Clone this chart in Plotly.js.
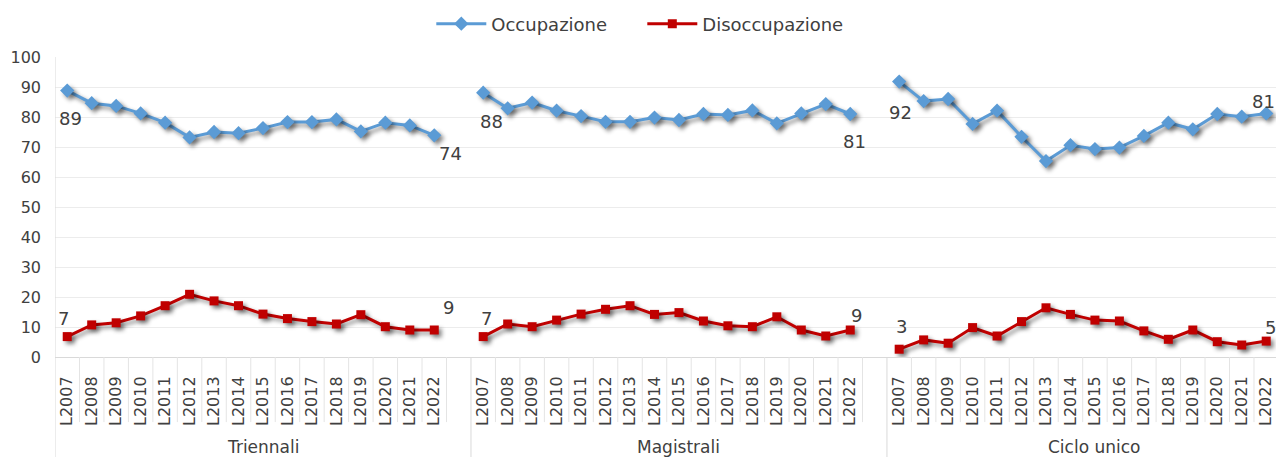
<!DOCTYPE html>
<html>
<head>
<meta charset="utf-8">
<script src="https://cdn.plot.ly/plotly-3.0.1.min.js"></script>
<style>
  html, body { margin: 0; padding: 0; background: #fff; overflow: hidden; }
  #chart { width: 1276px; height: 457px; }
  .scatterlayer .trace .js-line, .scatterlayer .trace .points path {
    filter: drop-shadow(3px 3px 2px rgba(0,0,0,0.45));
  }
</style>
</head>
<body>
<div id="chart"></div>
<script>
// ---- data ----
const years = ['L2007','L2008','L2009','L2010','L2011','L2012','L2013','L2014',
               'L2015','L2016','L2017','L2018','L2019','L2020','L2021','L2022'];
const groups = ['Triennali', 'Magistrali', 'Ciclo unico'];

const occTriennali  = [88.8,84.6,83.7,81.2,78.1,73.2,75.0,74.6,76.3,78.3,78.3,79.2,75.2,78.1,77.2,73.9];
const disTriennali  = [6.8,10.7,11.4,13.7,17.1,20.9,18.7,17.1,14.3,12.8,11.8,11.0,14.1,10.1,9.0,9.0];
const occMagistrali = [88.1,82.9,84.8,82.1,80.3,78.4,78.4,79.8,79.0,81.0,80.7,82.2,77.9,81.2,84.3,81.0];
const disMagistrali = [6.8,11.0,10.1,12.3,14.3,15.9,17.1,14.2,14.8,12.0,10.4,10.1,13.4,9.0,7.0,9.0];
const occCiclo      = [91.8,85.3,86.0,77.7,82.1,73.4,65.3,70.6,69.3,69.8,73.7,78.1,75.9,81.0,80.1,81.2];
const disCiclo      = [2.6,5.7,4.6,9.8,7.0,11.8,16.4,14.2,12.3,12.0,8.7,5.9,9.0,5.1,4.0,5.3];

const occSeries = [occTriennali, occMagistrali, occCiclo];
const disSeries = [disTriennali, disMagistrali, disCiclo];

// ---- style / layout helpers ----
const slot = years.length + 1;          // 16 years + 1 empty slot per group
const txtColor = '#404040';
const fontFam = '"DejaVu Sans", "Liberation Sans", sans-serif';

function build(seriesList) {
  const xs = [], ys = [];
  seriesList.forEach((s, g) => {
    s.forEach((v, i) => { xs.push(g * slot + i); ys.push(v); });
    if (g < seriesList.length - 1) { xs.push(g * slot + years.length); ys.push(null); }
  });
  return {xs, ys};
}
const occ = build(occSeries);
const dis = build(disSeries);

const traces = [
  {x: occ.xs, y: occ.ys, name: 'Occupazione', type: 'scatter', mode: 'lines+markers',
   line: {color: '#5B9BD5', width: 3}, marker: {symbol: 'diamond', size: 11, color: '#5B9BD5'},
   connectgaps: false, hoverinfo: 'skip'},
  {x: dis.xs, y: dis.ys, name: 'Disoccupazione', type: 'scatter', mode: 'lines+markers',
   line: {color: '#C00000', width: 3}, marker: {symbol: 'square', size: 9, color: '#C00000'},
   connectgaps: false, hoverinfo: 'skip'}
];

const tickvals = [], ticktext = [];
groups.forEach((g, gi) => years.forEach((y, i) => { tickvals.push(gi * slot + i); ticktext.push(y); }));

// label offsets (first, last) per group [xshift, yshift]
const occOffsets = [[[3,-28],[16,-18]], [[8,-29],[4,-27]], [[1,-31],[-3,12]]];
const disOffsets = [[[-4,18],[14,23]], [[3,18],[6,15]], [[2,23],[4,14]]];

const annotations = [];
function addLabels(seriesList, offsets) {
  seriesList.forEach((s, g) => {
    [0, s.length - 1].forEach((idx, k) => {
      annotations.push({
        x: g * slot + idx, y: s[idx], xref: 'x', yref: 'y',
        text: String(Math.round(s[idx])), showarrow: false,
        xshift: offsets[g][k][0], yshift: offsets[g][k][1],
        font: {size: 18, color: txtColor, family: fontFam}
      });
    });
  });
}
addLabels(occSeries, occOffsets);
addLabels(disSeries, disOffsets);

groups.forEach((g, gi) => {
  annotations.push({
    x: gi * slot + (years.length - 1) / 2 + 0.5, y: -0.3, xref: 'x', yref: 'paper',
    text: g, showarrow: false, yanchor: 'middle',
    font: {size: 17, color: txtColor, family: fontFam}
  });
});

const shapes = [];
const lineCol = '#d9d9d9';
for (let gi = 0; gi < groups.length; gi++) {
  for (let i = 0; i <= years.length; i++) {
    const bx = gi * slot + i - 0.5;
    if (i === 0) {
      shapes.push({type: 'line', xref: 'x', yref: 'paper', x0: bx, x1: bx,
        y0: gi === 0 ? 1 : 0, y1: -0.34, line: {color: lineCol, width: 1}});
    } else {
      shapes.push({type: 'line', xref: 'x', yref: 'paper', x0: bx, x1: bx,
        y0: 0, y1: -0.217, line: {color: '#e4e4e4', width: 1}});
    }
  }
}

const layout = {
  width: 1276, height: 457,
  margin: {l: 55, r: 0, t: 57, b: 100},
  paper_bgcolor: '#ffffff', plot_bgcolor: '#ffffff',
  font: {family: fontFam, color: txtColor},
  showlegend: true,
  legend: {orientation: 'h', x: 0.481, xanchor: 'center', y: 1.11, yanchor: 'middle',
           font: {size: 18, color: txtColor, family: fontFam}, itemwidth: 50,
           entrywidth: 146, entrywidthmode: 'pixels', traceorder: 'normal'},
  xaxis: {
    range: [-0.5, 49.4], tickmode: 'array', tickvals: tickvals, ticktext: ticktext,
    tickangle: -90, tickfont: {size: 16, color: txtColor}, showgrid: false, zeroline: false,
    ticks: '', ticklabelstandoff: 12, showline: true, linecolor: lineCol, linewidth: 1,
    fixedrange: true
  },
  yaxis: {
    range: [0, 100], dtick: 10, tick0: 0, tickfont: {size: 16, color: txtColor},
    gridcolor: '#ececec', gridwidth: 1, zeroline: false, showline: false, ticks: '',
    ticklabelstandoff: 13, fixedrange: true
  },
  annotations: annotations,
  shapes: shapes
};

Plotly.newPlot('chart', traces, layout, {displayModeBar: false, staticPlot: true});
</script>
</body>
</html>
